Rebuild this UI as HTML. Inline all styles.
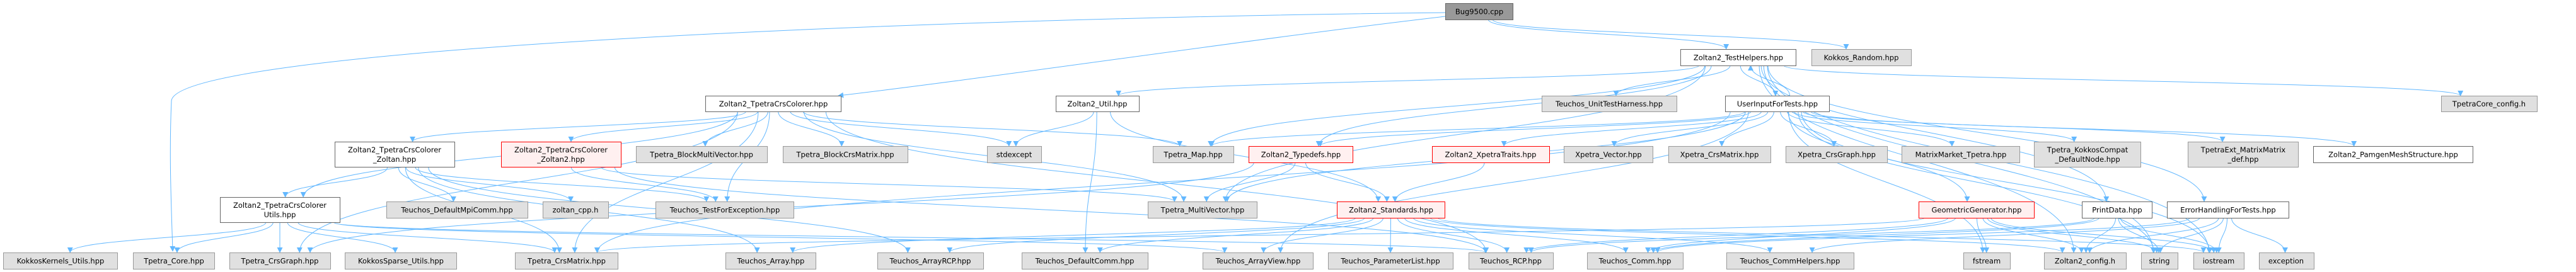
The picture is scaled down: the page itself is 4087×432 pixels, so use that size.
<!DOCTYPE html>
<html><head><meta charset="utf-8"><style>
html,body{margin:0;padding:0;background:#fff;width:4087px;height:432px;overflow:hidden}
svg{display:block}
text{font-family:"DejaVu Sans","Liberation Sans",sans-serif;font-size:11.5px;fill:#000;text-anchor:middle}
.g{fill:#e0e0e0;stroke:#999}
.w{fill:#fff;stroke:#666}
.r{fill:#fff0f0;stroke:#f00}
.d{fill:#999;stroke:#666}
</style></head><body>
<svg id="s" width="4087" height="432" viewBox="0 0 4087 432" xmlns="http://www.w3.org/2000/svg">
<defs><marker id="a" viewBox="0 0 10 10" refX="9" refY="5" markerWidth="9" markerHeight="9" markerUnits="userSpaceOnUse" orient="auto"><path d="M0,0 L10,5 L0,10 z" fill="#63b8ff"/></marker></defs>
<g id="edges" fill="none" stroke="#63b8ff" stroke-width="1" marker-end="url(#a)">
<path d="M2293,20 C1400,30 280,80 272,160 C268,250 272,330 274,399"/>
<path d="M2293,26 C2000,60 1600,120 1330,152"/>
</g>
<g stroke-width="1">
<rect class="d" x="2293.5" y="5.5" width="107" height="26"/><text x="2347" y="22.5">Bug9500.cpp</text>
<rect class="w" x="2666.5" y="78.5" width="183" height="26"/><text x="2758" y="95.5">Zoltan2_TestHelpers.hpp</text>
<rect class="g" x="2874.5" y="78.5" width="158" height="26"/><text x="2953" y="95.5">Kokkos_Random.hpp</text>
<rect class="w" x="1119.5" y="152.5" width="215" height="25"/><text x="1227" y="169">Zoltan2_TpetraCrsColorer.hpp</text>
<rect class="w" x="1675.5" y="152.5" width="132" height="25"/><text x="1741" y="169">Zoltan2_Util.hpp</text>
<rect class="g" x="2446.5" y="152.5" width="214" height="25"/><text x="2553" y="169">Teuchos_UnitTestHarness.hpp</text>
<rect class="w" x="2737.5" y="152.5" width="165" height="25"/><text x="2820" y="169">UserInputForTests.hpp</text>
<rect class="g" x="3873.5" y="152.5" width="152" height="25"/><text x="3949" y="169">TpetraCore_config.h</text>
<rect class="w" x="531.5" y="225.5" width="190" height="40"/><text x="626" y="242">Zoltan2_TpetraCrsColorer</text><text x="626" y="257">_Zoltan.hpp</text>
<rect class="r" x="795.5" y="225.5" width="190" height="40"/><text x="890" y="242">Zoltan2_TpetraCrsColorer</text><text x="890" y="257">_Zoltan2.hpp</text>
<rect class="g" x="1009.5" y="232.5" width="208" height="26"/><text x="1113" y="249.5">Tpetra_BlockMultiVector.hpp</text>
<rect class="g" x="1242.5" y="232.5" width="198" height="26"/><text x="1341" y="249.5">Tpetra_BlockCrsMatrix.hpp</text>
<rect class="g" x="1566.5" y="232.5" width="86" height="26"/><text x="1609" y="249.5">stdexcept</text>
<rect class="g" x="1829.5" y="232.5" width="128" height="26"/><text x="1893" y="249.5">Tpetra_Map.hpp</text>
<rect class="r" x="1981.5" y="232.5" width="165" height="26"/><text x="2064" y="249.5">Zoltan2_Typedefs.hpp</text>
<rect class="r" x="2272.5" y="232.5" width="186" height="26"/><text x="2365" y="249.5">Zoltan2_XpetraTraits.hpp</text>
<rect class="g" x="2481.5" y="232.5" width="141" height="26"/><text x="2552" y="249.5">Xpetra_Vector.hpp</text>
<rect class="g" x="2647.5" y="232.5" width="162" height="26"/><text x="2728" y="249.5">Xpetra_CrsMatrix.hpp</text>
<rect class="g" x="2833.5" y="232.5" width="161" height="26"/><text x="2914" y="249.5">Xpetra_CrsGraph.hpp</text>
<rect class="g" x="3017.5" y="232.5" width="187" height="26"/><text x="3111" y="249.5">MatrixMarket_Tpetra.hpp</text>
<rect class="g" x="3227.5" y="225.5" width="169" height="40"/><text x="3312" y="242">Tpetra_KokkosCompat</text><text x="3312" y="257">_DefaultNode.hpp</text>
<rect class="g" x="3471.5" y="225.5" width="175" height="40"/><text x="3559" y="242">TpetraExt_MatrixMatrix</text><text x="3559" y="257">_def.hpp</text>
<rect class="w" x="3670.5" y="232.5" width="253" height="26"/><text x="3797" y="249.5">Zoltan2_PamgenMeshStructure.hpp</text>
<rect class="w" x="349.5" y="313.5" width="190" height="40"/><text x="444" y="330">Zoltan2_TpetraCrsColorer</text><text x="444" y="345">Utils.hpp</text>
<rect class="g" x="613.5" y="320.5" width="224" height="26"/><text x="725" y="337.5">Teuchos_DefaultMpiComm.hpp</text>
<rect class="g" x="861.5" y="320.5" width="104" height="26"/><text x="913" y="337.5">zoltan_cpp.h</text>
<rect class="g" x="1040.5" y="320.5" width="219" height="26"/><text x="1150" y="337.5">Teuchos_TestForException.hpp</text>
<rect class="g" x="1821.5" y="320.5" width="173" height="26"/><text x="1908" y="337.5">Tpetra_MultiVector.hpp</text>
<rect class="r" x="2121.5" y="320.5" width="171" height="26"/><text x="2207" y="337.5">Zoltan2_Standards.hpp</text>
<rect class="r" x="3044.5" y="320.5" width="183" height="26"/><text x="3136" y="337.5">GeometricGenerator.hpp</text>
<rect class="w" x="3303.5" y="320.5" width="111" height="26"/><text x="3359" y="337.5">PrintData.hpp</text>
<rect class="w" x="3438.5" y="320.5" width="193" height="26"/><text x="3535" y="337.5">ErrorHandlingForTests.hpp</text>
<rect class="g" x="5.5" y="401.5" width="181" height="26"/><text x="96" y="418.5">KokkosKernels_Utils.hpp</text>
<rect class="g" x="211.5" y="401.5" width="129" height="26"/><text x="276" y="418.5">Tpetra_Core.hpp</text>
<rect class="g" x="364.5" y="401.5" width="160" height="26"/><text x="444" y="418.5">Tpetra_CrsGraph.hpp</text>
<rect class="g" x="547.5" y="401.5" width="177" height="26"/><text x="636" y="418.5">KokkosSparse_Utils.hpp</text>
<rect class="g" x="817.5" y="401.5" width="163" height="26"/><text x="899" y="418.5">Tpetra_CrsMatrix.hpp</text>
<rect class="g" x="1151.5" y="401.5" width="143" height="26"/><text x="1223" y="418.5">Teuchos_Array.hpp</text>
<rect class="g" x="1392.5" y="401.5" width="168" height="26"/><text x="1476" y="418.5">Teuchos_ArrayRCP.hpp</text>
<rect class="g" x="1621.5" y="401.5" width="200" height="26"/><text x="1721" y="418.5">Teuchos_DefaultComm.hpp</text>
<rect class="g" x="1908.5" y="401.5" width="175" height="26"/><text x="1996" y="418.5">Teuchos_ArrayView.hpp</text>
<rect class="g" x="2107.5" y="401.5" width="198" height="26"/><text x="2206" y="418.5">Teuchos_ParameterList.hpp</text>
<rect class="g" x="2330.5" y="401.5" width="134" height="26"/><text x="2397" y="418.5">Teuchos_RCP.hpp</text>
<rect class="g" x="2518.5" y="401.5" width="152" height="26"/><text x="2594" y="418.5">Teuchos_Comm.hpp</text>
<rect class="g" x="2739.5" y="401.5" width="202" height="26"/><text x="2840" y="418.5">Teuchos_CommHelpers.hpp</text>
<rect class="g" x="3115.5" y="401.5" width="74" height="26"/><text x="3152" y="418.5">fstream</text>
<rect class="g" x="3243.5" y="401.5" width="130" height="26"/><text x="3308" y="418.5">Zoltan2_config.h</text>
<rect class="g" x="3397.5" y="401.5" width="58" height="26"/><text x="3426" y="418.5">string</text>
<rect class="g" x="3480.5" y="401.5" width="80" height="26"/><text x="3520" y="418.5">iostream</text>
<rect class="g" x="3584.5" y="401.5" width="87" height="26"/><text x="3627" y="418.5">exception</text>
</g>
</svg>
<script>
var N={
Bug:[2293,2400,5,31],TH:[2666,2849,78,104],KR:[2874,3032,78,104],
TC:[1119,1334,152,177],UT:[1675,1807,152,177],UTH:[2446,2660,152,177],UI:[2737,2902,152,177],TCC:[3873,4025,152,177],
Zn:[531,721,225,266],Zn2:[795,985,225,266],BMV:[1009,1217,232,258],BCM:[1242,1440,232,258],SE:[1566,1652,232,258],Map:[1829,1957,232,258],
TD:[1981,2146,232,258],XT:[2272,2458,232,258],XV:[2481,2622,232,258],XCM:[2647,2809,232,258],XCG:[2833,2994,232,258],MM:[3017,3204,232,258],
KC:[3227,3396,225,266],TE:[3471,3646,225,266],PM:[3670,3923,232,258],
CU:[349,539,313,353],MPI:[613,837,320,346],ZC:[861,965,320,346],TFE:[1040,1259,320,346],MV:[1821,1994,320,346],ST:[2121,2292,320,346],
GG:[3044,3227,320,346],PD:[3303,3414,320,346],EH:[3438,3631,320,346],
KK:[5,186,401,427],Core:[211,340,401,427],CG:[364,524,401,427],KS:[547,724,401,427],CM:[817,980,401,427],Arr:[1151,1294,401,427],
ARCP:[1392,1560,401,427],DC:[1621,1821,401,427],AV:[1908,2083,401,427],PL:[2107,2305,401,427],RCP:[2330,2464,401,427],
Com:[2518,2670,401,427],CH:[2739,2941,401,427],FS:[3115,3189,401,427],ZCf:[3243,3373,401,427],Str:[3397,3455,401,427],IO:[3480,3560,401,427],Exc:[3584,3671,401,427]};
var E=[["Bug","TH"],["Bug","KR"],["TH","UT"],["TH","UTH"],["TH","UI"],["UI","TH"],["TH","TD"],["TH","Map"],["TH","TCC"],["TH","ZCf"],["TH","IO"],["TH","Str"],["TH","PD"],["TH","EH"],["TH","MV"],
["UI","TD"],["UI","XT"],["UI","XV"],["UI","XCM"],["UI","XCG"],["UI","MM"],["UI","KC"],["UI","TE"],["UI","PM"],["UI","GG"],["UI","Map"],["UI","MV"],["UI","FS"],["UI","IO"],["UI","Str"],["UI","CM"],["UI","AV"],
["TC","Zn"],["TC","Zn2"],["TC","CU"],["TC","BMV"],["TC","BCM"],["TC","SE"],["TC","Map"],["TC","MV"],["TC","TFE"],["TC","CG"],["TC","CM"],["TC","RCP"],
["Zn","CU"],["Zn","MPI"],["Zn","ZC"],["Zn","TFE"],["Zn","CM"],["Zn","ARCP"],["Zn","Arr"],["Zn2","TFE"],["Zn2","RCP"],["Zn2","MV"],
["CU","KK"],["CU","CG"],["CU","KS"],["CU","CM"],["CU","Core"],["CU","RCP"],["CU","AV"],
["UT","SE"],["UT","DC"],["UT","ST"],["TD","MV"],["TD","CG"],["TD","ST"],["XT","ST"],
["ST","Arr"],["ST","ARCP"],["ST","DC"],["ST","AV"],["ST","PL"],["ST","RCP"],["ST","Com"],["ST","CH"],["ST","ZCf"],["ST","IO"],
["GG","FS"],["GG","ZCf"],["GG","Str"],["GG","IO"],["GG","Com"],["GG","RCP"],["GG","CM"],
["PD","ZCf"],["PD","Str"],["PD","IO"],["PD","Com"],["PD","RCP"],
["EH","ZCf"],["EH","Str"],["EH","IO"],["EH","Exc"],["EH","Com"],["EH","CH"]];
var g=document.getElementById("edges"),s="";
E.forEach(function(e){var a=N[e[0]],b=N[e[1]];
var ax=(a[0]+a[1])/2,bx=(b[0]+b[1])/2,x1,y1,x2,y2;
if(b[2]>a[3]){x1=ax+Math.max(-0.45,Math.min(0.45,(bx-ax)/3000))*(a[1]-a[0]);y1=a[3];x2=bx-Math.max(-0.3,Math.min(0.3,(bx-ax)/4000))*(b[1]-b[0]);y2=b[2];
var dy=(y2-y1)*0.5;s+='<path d="M'+x1+','+y1+' C'+x1+','+(y1+dy)+' '+x2+','+(y2-dy)+' '+x2+','+y2+'"/>';}
else{x1=ax+20;y1=a[2];x2=bx+20;y2=b[3];var dy=(y1-y2)*0.5;s+='<path d="M'+x1+','+y1+' C'+x1+','+(y1-dy)+' '+x2+','+(y2+dy)+' '+x2+','+y2+'"/>';}
});
g.insertAdjacentHTML("beforeend",s);
</script>
</body></html>
